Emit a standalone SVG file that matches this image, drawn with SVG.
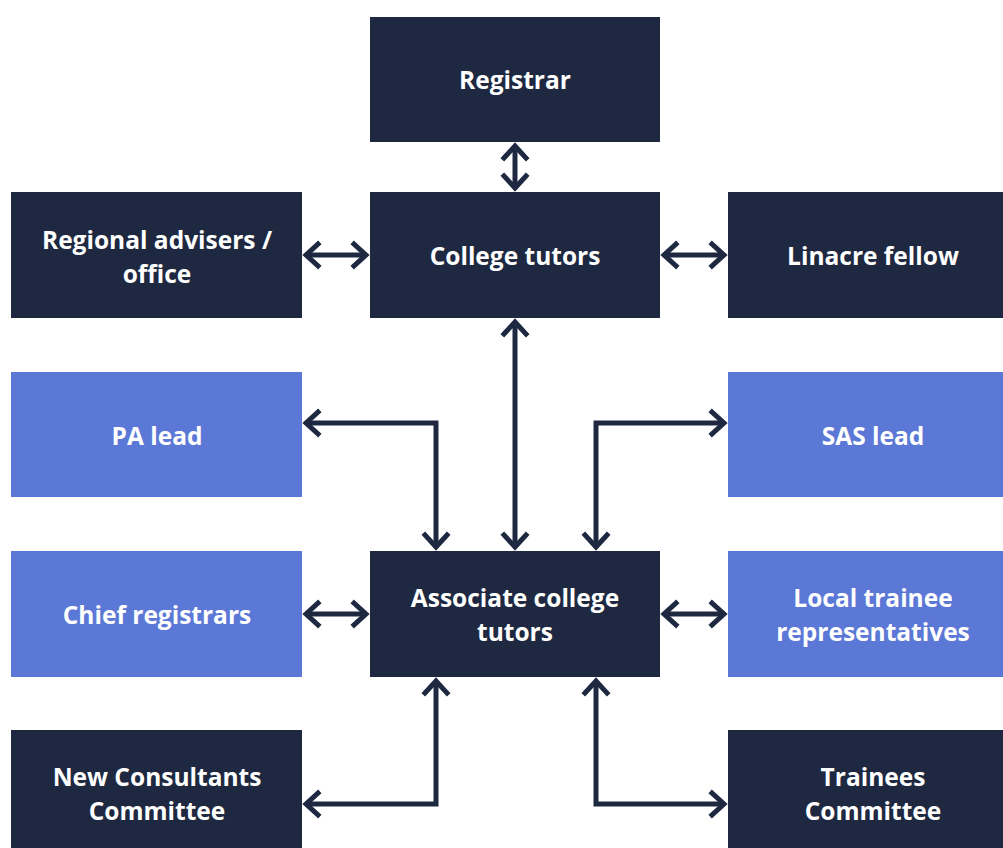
<svg xmlns="http://www.w3.org/2000/svg" width="1003" height="848" viewBox="0 0 1003 848">
<style>
.dark{fill:#1e2941}
.blue{fill:#5b78d6}
.t{fill:#ffffff;font-family:"Open Sans",sans-serif;font-weight:700;font-size:24.5px;text-anchor:middle}
.c{fill:none;stroke:#1e2941;stroke-width:5;marker-start:url(#a);marker-end:url(#a)}
</style>
<defs>
<marker id="a" markerUnits="userSpaceOnUse" orient="auto-start-reverse" markerWidth="30" markerHeight="30" viewBox="-20 -15 25 30" refX="0" refY="0" overflow="visible">
<path d="M-12,-11 L0,0 L-12,11" fill="none" stroke="#1e2941" stroke-width="5" stroke-linecap="square"/>
</marker>
</defs>
<g id="connectors">
<path class="c" d="M515,146 V188"/>
<path class="c" d="M306,255 H366"/>
<path class="c" d="M664,255 H724"/>
<path class="c" d="M515,322 V547"/>
<path class="c" d="M306,423 H436 V547"/>
<path class="c" d="M724,423 H596 V547"/>
<path class="c" d="M306,614 H366"/>
<path class="c" d="M664,614 H724"/>
<path class="c" d="M436,681 V804 H306"/>
<path class="c" d="M596,681 V804 H724"/>
</g>
<g id="registrar"><rect class="dark" x="370" y="17" width="290" height="125"/><text class="t" x="515" y="89">Registrar</text></g>
<g id="college-tutors"><rect class="dark" x="370" y="192" width="290" height="126"/><text class="t" x="515" y="265">College tutors</text></g>
<g id="regional-advisers"><rect class="dark" x="11" y="192" width="291" height="126"/><text class="t" x="157" y="249">Regional advisers /</text><text class="t" x="157" y="283">office</text></g>
<g id="linacre-fellow"><rect class="dark" x="728" y="192" width="275" height="126"/><text class="t" x="873" y="265">Linacre fellow</text></g>
<g id="pa-lead"><rect class="blue" x="11" y="372" width="291" height="125"/><text class="t" x="157" y="445">PA lead</text></g>
<g id="sas-lead"><rect class="blue" x="728" y="372" width="275" height="125"/><text class="t" x="873" y="445">SAS lead</text></g>
<g id="chief-registrars"><rect class="blue" x="11" y="551" width="291" height="126"/><text class="t" x="157" y="624">Chief registrars</text></g>
<g id="associate-college-tutors"><rect class="dark" x="370" y="551" width="290" height="126"/><text class="t" x="515" y="607">Associate college</text><text class="t" x="515" y="641">tutors</text></g>
<g id="local-trainee-reps"><rect class="blue" x="728" y="551" width="275" height="126"/><text class="t" x="873" y="607">Local trainee</text><text class="t" x="873" y="641">representatives</text></g>
<g id="new-consultants-committee"><rect class="dark" x="11" y="730" width="291" height="118"/><text class="t" x="157" y="786">New Consultants</text><text class="t" x="157" y="820">Committee</text></g>
<g id="trainees-committee"><rect class="dark" x="728" y="730" width="275" height="118"/><text class="t" x="873" y="786">Trainees</text><text class="t" x="873" y="820">Committee</text></g>
</svg>
